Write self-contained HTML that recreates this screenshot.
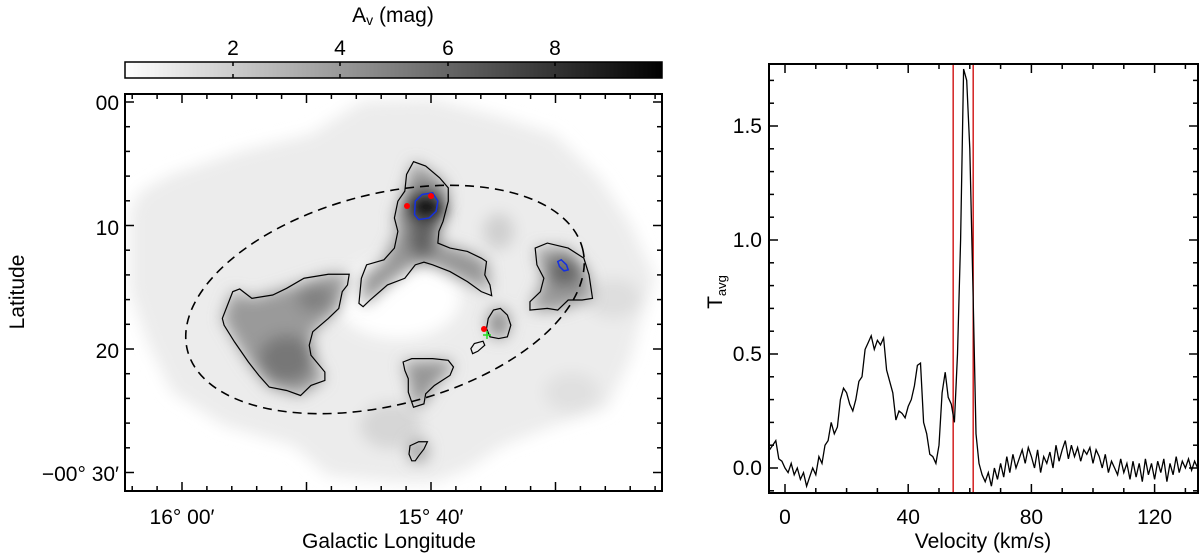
<!DOCTYPE html>
<html><head><meta charset="utf-8"><style>
html,body{margin:0;padding:0;background:#fff;}
svg{display:block;font-family:"Liberation Sans",sans-serif;}
</style></head><body>
<svg id="fig" width="1200" height="556" viewBox="0 0 1200 556" xmlns="http://www.w3.org/2000/svg">
<defs>
<linearGradient id="cbg" x1="0" x2="1" y1="0" y2="0"><stop offset="0" stop-color="#fff"/><stop offset="1" stop-color="#000"/></linearGradient>
<filter id="blur" x="-20%" y="-20%" width="140%" height="140%"><feGaussianBlur stdDeviation="22"/></filter>
<filter id="blur2" x="-30%" y="-30%" width="160%" height="160%"><feGaussianBlur stdDeviation="22"/></filter>
<clipPath id="mapclip"><rect x="126" y="95" width="535" height="395"/></clipPath>
</defs>

<g>
<text x="393" y="22" font-size="21" text-anchor="middle">A<tspan font-size="14" dy="3">v</tspan><tspan dy="-3"> (mag)</tspan></text>
<rect x="125" y="62" width="537" height="16" fill="url(#cbg)" stroke="#000" stroke-width="1.5"/>
<g stroke="#000" stroke-width="1.5">
<line x1="233" y1="62" x2="233" y2="66"/><line x1="340" y1="62" x2="340" y2="66"/><line x1="448" y1="62" x2="448" y2="66"/><line x1="555" y1="62" x2="555" y2="66"/>
<line x1="233" y1="78" x2="233" y2="74"/><line x1="340" y1="78" x2="340" y2="74"/><line x1="448" y1="78" x2="448" y2="74"/><line x1="555" y1="78" x2="555" y2="74"/>
</g>
<g font-size="21" text-anchor="middle"><text x="233" y="55">2</text><text x="340" y="55">4</text><text x="448" y="55">6</text><text x="555" y="55">8</text></g>
</g>

<g clip-path="url(#mapclip)">
<g transform="translate(119.79,90.65) scale(0.3476,0.335)">
<g filter="url(#blur)">
<polygon fill="#ececec" points="30,360 60,300 150,250 350,180 550,130 700,30 900,25 1100,80 1250,130 1380,260 1470,400 1540,560 1500,680 1470,800 1400,950 1250,1000 1100,1060 1000,1130 900,1170 800,1170 600,1150 500,1060 300,1000 150,900 80,750 30,600"/>
<ellipse cx="800" cy="620" rx="180" ry="120" fill="#fff"/>
<ellipse cx="780" cy="1000" rx="90" ry="70" fill="#d6d6d6"/>
<ellipse cx="1090" cy="420" rx="45" ry="55" fill="#cfcfcf"/>
<ellipse cx="1420" cy="620" rx="80" ry="60" fill="#dedede"/>
<ellipse cx="1300" cy="900" rx="80" ry="60" fill="#e0e0e0"/>
</g>
<g filter="url(#blur2)">
<polygon fill="#9a9a9a" points="295,680 325,600 380,620 480,590 600,548 660,548 630,650 555,720 550,790 590,860 520,910 430,885 370,810"/>
<ellipse cx="480" cy="800" rx="80" ry="70" fill="#777"/>
<ellipse cx="560" cy="620" rx="50" ry="40" fill="#808080"/>
<polygon fill="#959595" points="845,212 920,260 945,300 930,390 915,455 1000,480 1055,510 1065,600 1000,570 900,520 850,520 770,580 700,645 695,560 760,505 800,420 790,380 820,300"/>
<ellipse cx="880" cy="350" rx="60" ry="55" fill="#111"/>
<ellipse cx="870" cy="440" rx="40" ry="60" fill="#606060"/>
<polygon fill="#999" points="1195,470 1290,470 1350,550 1360,620 1260,655 1180,655 1220,560"/>
<ellipse cx="1280" cy="540" rx="50" ry="45" fill="#666"/>
<ellipse cx="1090" cy="695" rx="30" ry="45" fill="#8a8a8a"/>
<polygon fill="#959595" points="815,810 945,805 960,825 905,880 875,935 845,945 830,860"/>
<ellipse cx="858" cy="1075" rx="28" ry="35" fill="#9e9e9e"/>
</g>
<g fill="none" stroke="#000" stroke-width="1.2">
<path vector-effect="non-scaling-stroke" d="M845,212 L825,250 820,300 800,330 790,380 800,420 790,470 760,505 710,520 695,560 688,635 700,645 720,625 770,580 820,560 850,520 875,512 900,520 950,540 1000,570 1040,600 1070,612 1065,580 1050,550 1055,510 1040,500 1000,480 950,470 915,455 918,420 930,390 945,330 945,290 920,260 880,225 Z"/>
<path vector-effect="non-scaling-stroke" d="M295,680 L325,600 345,592 380,620 440,610 480,590 530,560 600,548 660,548 655,580 640,600 630,650 600,680 555,720 545,760 550,790 590,840 590,865 550,880 520,910 480,895 430,885 400,850 370,810 330,750 300,700 Z"/>
<path vector-effect="non-scaling-stroke" d="M1195,470 L1230,455 1290,470 1335,500 1350,550 1360,620 1330,625 1290,625 1275,640 1260,655 1230,650 1180,655 1180,630 1210,600 1220,560 1200,520 Z"/>
<path vector-effect="non-scaling-stroke" d="M1060,680 L1075,655 1095,650 1115,670 1125,700 1115,735 1090,740 1065,735 1055,710 Z"/>
<path vector-effect="non-scaling-stroke" d="M1010,770 L1020,755 1045,748 1050,760 1030,778 1015,785 Z"/>
<path vector-effect="non-scaling-stroke" d="M815,810 L840,800 900,800 945,805 960,825 950,850 905,880 880,905 875,935 845,945 830,900 830,860 820,835 Z"/>
<path vector-effect="non-scaling-stroke" d="M835,1060 L860,1048 885,1048 875,1070 860,1090 850,1105 840,1105 832,1085 Z"/>
</g>
<g fill="none" stroke="#1530e0" stroke-width="1.5">
<path vector-effect="non-scaling-stroke" d="M850,330 L870,310 900,305 915,330 910,360 890,380 860,385 848,370 Z"/>
<path vector-effect="non-scaling-stroke" d="M1260,510 L1270,505 1285,520 1290,535 1278,538 1265,525 Z"/>
</g>
</g>
<ellipse cx="385" cy="299.5" rx="204" ry="105.5" transform="rotate(-14.5 385 299.5)" fill="none" stroke="#000" stroke-width="1.6" stroke-dasharray="9,6"/>
<circle cx="407" cy="206" r="3" fill="#f00"/>
<circle cx="431" cy="196" r="3" fill="#f00"/>
<circle cx="484" cy="329" r="3" fill="#f00"/>
<g stroke="#2d2" stroke-width="1.5"><line x1="483" y1="335" x2="491" y2="335"/><line x1="487" y1="331" x2="487" y2="339"/></g>
</g>
<rect x="125" y="94" width="537" height="397" fill="none" stroke="#000" stroke-width="2"/>
<g id="mapticks" stroke="#000" stroke-width="1.5"></g>
<g font-size="21">
<text x="119" y="110" text-anchor="end">00</text>
<text x="119" y="235" text-anchor="end">10</text>
<text x="119" y="358" text-anchor="end">20</text>
<text x="119" y="481" text-anchor="end">−00° 30′</text>
<text x="182" y="524" text-anchor="middle">16° 00′</text>
<text x="431" y="524" text-anchor="middle">15° 40′</text>
<text x="389" y="548" text-anchor="middle">Galactic Longitude</text>
<text transform="translate(24,292) rotate(-90)" text-anchor="middle">Latitude</text>
</g>

<g id="spec"></g>
<g font-size="21">
<text x="983" y="548" text-anchor="middle">Velocity (km/s)</text>
<text transform="translate(722,292) rotate(-90)" text-anchor="middle">T<tspan font-size="13" dy="4">avg</tspan></text>
</g>
</svg>
<script>
const NS="http://www.w3.org/2000/svg";
function mk(tag,attrs,parent){const e=document.createElementNS(NS,tag);for(const k in attrs)e.setAttribute(k,attrs[k]);parent.appendChild(e);return e;}

const mt=document.getElementById('mapticks');
for(let i=0;i<=15;i++){const y=102+i*24.7;if(y>490)break;const L=(i%5===0)?9:5;
mk('line',{x1:125,y1:y,x2:125+L,y2:y},mt);mk('line',{x1:662,y1:y,x2:662-L,y2:y},mt);}
for(let i=-2;i<=25;i++){const x=182+i*24.9;if(x<126||x>661)continue;const L=(i%5===0)?9:5;
mk('line',{x1:x,y1:491,x2:x,y2:491-L},mt);mk('line',{x1:x,y1:94,x2:x,y2:94+L},mt);}

const velocity=[];for(let v=-5;v<=134;v++)velocity.push(v);
const tavg=[0.08,0.1,0.12,0.04,0.03,0.0,-0.02,0.02,-0.03,0.0,-0.05,-0.02,-0.08,-0.04,0.0,-0.03,0.05,0.02,0.1,0.12,0.2,0.15,0.18,0.3,0.35,0.33,0.28,0.25,0.3,0.38,0.4,0.52,0.55,0.58,0.52,0.56,0.54,0.57,0.43,0.38,0.33,0.21,0.25,0.24,0.22,0.27,0.3,0.36,0.45,0.46,0.2,0.15,0.06,0.05,0.02,0.1,0.33,0.42,0.31,0.28,0.2,0.5,1.0,1.75,1.7,1.4,0.8,0.15,0.02,-0.03,-0.06,-0.02,-0.08,0.0,-0.05,0.02,-0.04,0.05,-0.02,0.06,0.0,0.04,0.08,0.02,0.09,0.05,0.0,0.08,-0.02,0.05,0.02,0.07,0.0,0.1,0.03,0.08,0.12,0.04,0.1,0.05,0.09,0.03,0.08,0.06,0.09,0.02,0.08,0.05,0.0,0.06,-0.02,0.03,0.0,-0.03,0.04,-0.02,0.02,-0.05,0.03,-0.04,0.02,-0.06,0.04,-0.03,0.02,-0.05,0.03,-0.02,0.04,-0.06,0.02,-0.03,0.05,-0.02,0.03,0.0,0.04,-0.01,0.03,0.0];
const xTicks=[0,40,80,120];
const yTicks=[0.0,0.5,1.0,1.5];
const yTickLabels=["0.0","0.5","1.0","1.5"];
const redLines=[54.6,61.1];

const PX0=769,PX1=1198,PY0=64,PY1=493;
const xs=v=>785+(v-0)*3.08;
const ys=t=>468-t*228;
const sp=document.getElementById('spec');
const clip=mk('clipPath',{id:'spclip'},sp);mk('rect',{x:PX0,y:PY0,width:PX1-PX0,height:PY1-PY0},clip);
redLines.forEach((v,i)=>{const l=mk('line',{x1:xs(v),y1:PY0,x2:xs(v),y2:PY1,stroke:'#d01010','stroke-width':1.4},sp);

});
let d='';velocity.forEach((v,i)=>{d+=(i?'L':'M')+xs(v).toFixed(1)+','+ys(tavg[i]).toFixed(1);});
const line=mk('path',{d:d,fill:'none',stroke:'#000','stroke-width':1.3,'clip-path':'url(#spclip)'},sp);


const fr=mk('rect',{x:PX0,y:PY0,width:PX1-PX0,height:PY1-PY0,fill:'none',stroke:'#000','stroke-width':2},sp);


for(let v=0;v<=130;v+=10){const x=xs(v);const L=(v%40===0)?9:5;
mk('line',{x1:x,y1:PY1,x2:x,y2:PY1-L,stroke:'#000','stroke-width':1.5},sp);
mk('line',{x1:x,y1:PY0,x2:x,y2:PY0+L,stroke:'#000','stroke-width':1.5},sp);}
for(let k=-1;k<=17;k++){const t=k/10;const y=ys(t);if(y<PY0||y>PY1)continue;const L=(k%5===0)?9:5;
mk('line',{x1:PX0,y1:y,x2:PX0+L,y2:y,stroke:'#000','stroke-width':1.5},sp);
mk('line',{x1:PX1,y1:y,x2:PX1-L,y2:y,stroke:'#000','stroke-width':1.5},sp);}
xTicks.forEach(v=>{const t=mk('text',{x:xs(v),y:524,'font-size':21,'text-anchor':'middle'},sp);t.textContent=v;

});
yTicks.forEach((v,i)=>{const t=mk('text',{x:762,y:ys(v)+7,'font-size':21,'text-anchor':'end'},sp);t.textContent=yTickLabels[i];

});
</script>
</body></html>
